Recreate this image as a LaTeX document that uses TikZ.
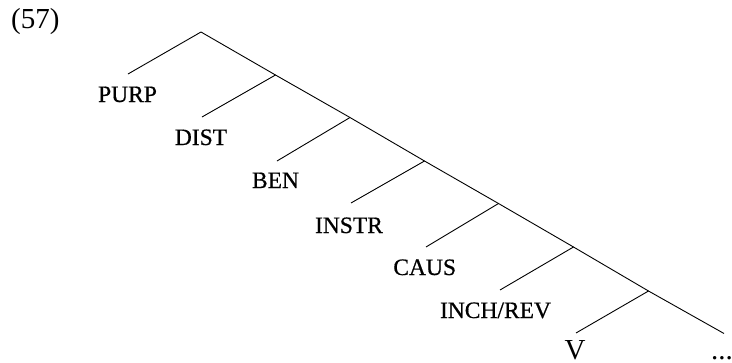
\documentclass[tikz,border=0pt]{standalone}
\usepackage{fontspec}
\setmainfont{Liberation Serif}
\newfontfamily\labfont[FakeBold=0.6]{Liberation Serif}
\begin{document}
\begin{tikzpicture}[x=1pt,y=-1pt,
  branch/.style={line width=0.9pt, black},
  lab/.style={inner sep=0pt, anchor=base, font=\labfont\fontsize{23.5}{26}\selectfont},
  big/.style={inner sep=0pt, font=\fontsize{29}{32}\selectfont}]
\useasboundingbox (0,0) rectangle (732,362);
% spine coordinates
\coordinate (t0) at (201,32);
\coordinate (b1) at (275.5,75);
\coordinate (b2) at (350,117.5);
\coordinate (b3) at (424.5,161);
\coordinate (b4) at (498.5,203.5);
\coordinate (b5) at (573.5,247);
\coordinate (b6) at (648.5,291);
\coordinate (e) at (724,333.5);
% left ends
\coordinate (l0) at (128,74);
\coordinate (l1) at (202,117);
\coordinate (l2) at (277,161);
\coordinate (l3) at (351,203);
\coordinate (l4) at (426,247);
\coordinate (l5) at (500,290);
\coordinate (l6) at (576,333);
\draw[branch] (t0) -- (b1) -- (b2) -- (b3) -- (b4) -- (b5) -- (b6) -- (e);
\draw[branch] (t0) -- (l0);
\draw[branch] (b1) -- (l1);
\draw[branch] (b2) -- (l2);
\draw[branch] (b3) -- (l3);
\draw[branch] (b4) -- (l4);
\draw[branch] (b5) -- (l5);
\draw[branch] (b6) -- (l6);
% labels
\node[big, anchor=base west] (num) at (11,28.5) {(57)};
\node[lab] (purp) at (127.5,102) {PURP};
\node[lab] (dist) at (201,145) {DIST};
\node[lab] (ben) at (275.5,188) {BEN};
\node[lab] (instr) at (349,233) {INSTR};
\node[lab] (caus) at (424.7,275) {CAUS};
\node[lab] (inch) at (495.5,318) {INCH/REV};
\node[big, anchor=base] (v) at (575,359) {V};
\node[big, anchor=base west] (dots) at (711,359) {...};
\end{tikzpicture}
\end{document}
